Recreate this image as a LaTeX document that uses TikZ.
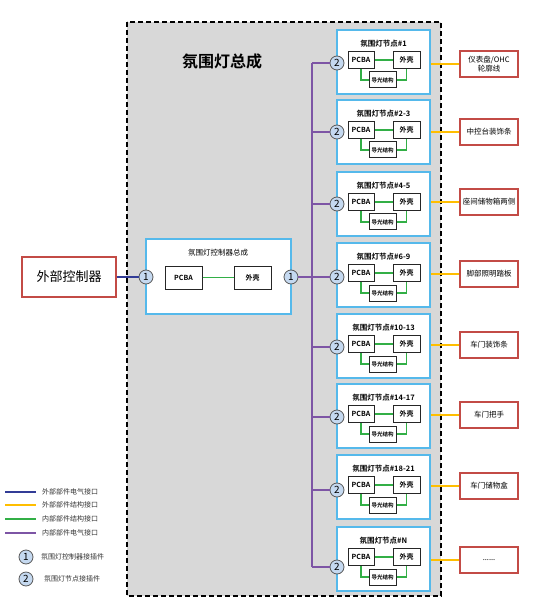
\documentclass[tikz,border=0pt]{standalone}
\usepackage{fontspec}
\setmainfont{Noto Sans CJK SC}[BoldFont={Noto Sans CJK SC Bold}]
\usetikzlibrary{positioning,calc}
\definecolor{bgray}{RGB}{216,216,216}
\definecolor{skyb}{RGB}{85,185,235}
\definecolor{extr}{RGB}{195,75,70}
\definecolor{plugb}{RGB}{197,217,240}
\definecolor{exelec}{RGB}{50,60,150}
\definecolor{exmech}{RGB}{255,190,0}
\definecolor{inmech}{RGB}{50,175,70}
\definecolor{inelec}{RGB}{125,85,165}
\newcommand\etcdots{......}

\begin{document}
\begin{tikzpicture}[x=1pt,y=-1pt,
    nodebox/.style={draw=skyb,line width=1.3pt,fill=white,minimum width=93pt,minimum height=64pt,inner sep=0pt},
    part/.style={draw=black!85,line width=1pt,fill=white,minimum height=17pt,inner sep=0pt,font=\bfseries\fontsize{7}{8}\selectfont},
    plug/.style={circle,draw=black!65,fill=plugb,line width=0.8pt,minimum size=14pt,inner sep=0pt,font=\fontsize{10}{10}\selectfont},
    extbox/.style={draw=extr,line width=1.2pt,fill=white,minimum width=58pt,minimum height=26pt,align=center,inner sep=1pt,font=\fontsize{7.5}{9}\selectfont},
    legtext/.style={anchor=west,inner sep=0pt,text=black!80,font=\fontsize{7}{8}\selectfont},
    exel/.style={draw=exelec,line width=1.2pt},
    exme/.style={draw=exmech,line width=1.2pt},
    inme/.style={draw=inmech,line width=1.4pt},
    inel/.style={draw=inelec,line width=1.2pt}]
  \useasboundingbox (0,0) rectangle (534,609);

  % assembly
  \draw[fill=bgray,line width=1.2pt,dash pattern=on 5pt off 3pt] (127,22) rectangle (441,596);
  \node[font=\bfseries\fontsize{16}{18}\selectfont] (asm) at (222,61) {氛围灯总成};
  \coordinate (bus) at (312,0);

  % controller
  \node[draw=extr,line width=1.2pt,fill=white,minimum width=94pt,minimum height=40pt,font=\fontsize{13}{14}\selectfont] (ecu) at (69,277) {外部控制器};
  \node[nodebox,minimum width=145pt,minimum height=75pt] (ctl) at (218.5,276.5) {};
  \node[font=\fontsize{7.5}{8}\selectfont] (ctlt) at (218,253) {氛围灯控制器总成};
  \node[part,minimum width=37pt,minimum height=23pt] (ctlp) at (183.5,277.5) {PCBA};
  \node[part,minimum width=37pt,minimum height=23pt] (ctls) at (252.5,277.5) {外壳};
  \draw[inme] (ctlp) -- (ctls);
  \node[plug] (c1a) at (146,277) {1};
  \node[plug] (c1b) at (291,277) {1};
  \draw[exel] (ecu) -- (c1a);
  \draw[inel] (c1b) -- (c1b -| bus);

  % light nodes
  \foreach \i/\t/\n/\c/\e/\x in {
      1/30/1/63/64/{仪表盘/OHC\\轮廓线},
      2/100/2-3/132/132/中控台装饰条,
      3/172/4-5/204/202/座间储物箱两侧,
      4/243/6-9/277/274/脚部照明踏板,
      5/314/10-13/347/345/车门装饰条,
      6/384/14-17/417/415/车门把手,
      7/455/18-21/490/486/车门储物盒,
      8/527/N/567/560/\etcdots} {
    \node[nodebox] (nd\i) at (383.5,\t+32) {};
    \node[font=\bfseries\fontsize{7.5}{8}\selectfont] (ndt\i) at (383.5,\t+14) {氛围灯节点\#\n};
    \node[part,minimum width=26pt] (pcb\i) at (361,\t+30) {PCBA};
    \node[part,minimum width=27pt] (sh\i) at (406.5,\t+30) {外壳};
    \node[part,minimum width=27pt,minimum height=16pt,font=\bfseries\fontsize{5.5}{6}\selectfont] (lg\i) at (382.5,\t+50) {导光结构};
    \draw[inme] (pcb\i) -- (sh\i);
    \draw[inme] (pcb\i.south) |- (lg\i.west);
    \draw[inme] (lg\i.east) -| (sh\i.south);
    \node[plug] (cp\i) at (337,\c) {2};
    \draw[inel] (cp\i.west) -- (cp\i.west -| bus);
    \node[extbox] (ext\i) at (489,\e) {\x};
    \draw[exme] (ext\i.west) -- (ext\i.west -| nd\i.east);
  }
  \draw[inel] (cp1.west -| bus) -- (cp8.west -| bus);

  % legend
  \foreach \y/\s/\txt in {492/exel/外部部件电气接口,505/exme/外部部件结构接口,
      519/inme/内部部件结构接口,533/inel/内部部件电气接口} {
    \coordinate (la\y) at (5,\y);
    \coordinate (lb\y) at (36,\y);
    \draw[\s] (la\y) -- (lb\y);
    \node[legtext] (lt\y) at (42,\y) {\txt};
  }
  \node[plug] (lp1) at (26,557) {1};
  \node[legtext] (lpt1) at (41,557) {氛围灯控制器接插件};
  \node[plug] (lp2) at (26,579) {2};
  \node[legtext] (lpt2) at (44,579) {氛围灯节点接插件};
\end{tikzpicture}
\end{document}
